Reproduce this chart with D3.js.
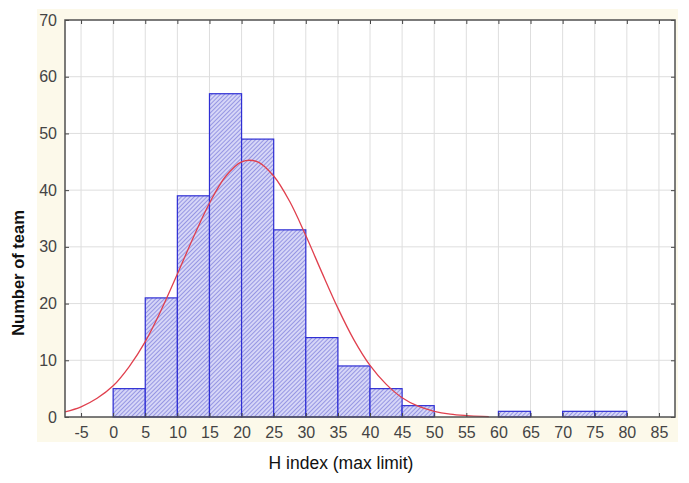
<!DOCTYPE html>
<html>
<head>
<meta charset="utf-8">
<script src="https://cdn.jsdelivr.net/npm/d3@7"></script>
<style>
  html, body { margin: 0; padding: 0; background: #fff; }
  svg { display: block; font-family: "Liberation Sans", Arial, sans-serif; }
</style>
</head>
<body>
<svg id="chart" width="689" height="483"></svg>
<script>
// histogram bins (lower edge, width 5) and counts
const binStarts = [0, 5, 10, 15, 20, 25, 30, 35, 40, 45, 60, 70, 75];
const binCounts = [5, 21, 39, 57, 49, 33, 14, 9, 5, 2, 1, 1, 1];
const binWidth = 5;

// fitted normal curve
const curveX = [-7.5, -5, -2.5, 0, 2.5, 5, 7.5, 10, 12.5, 15, 17.5, 20, 22.5, 25, 27.5, 30, 32.5, 35, 37.5, 40, 42.5, 45, 47.5, 50, 52.5, 55, 57.5, 58.5];
const curveY = [0.9, 1.8, 3.3, 5.5, 8.9, 13.3, 18.9, 25.2, 31.7, 37.7, 42.4, 45.0, 45.0, 42.5, 38.0, 32.0, 25.5, 19.2, 13.6, 9.1, 5.8, 3.4, 1.9, 1.0, 0.5, 0.25, 0.1, 0.07];

const xTicks = [-5, 0, 5, 10, 15, 20, 25, 30, 35, 40, 45, 50, 55, 60, 65, 70, 75, 80, 85];
const yTicks = [0, 10, 20, 30, 40, 50, 60, 70];

const svg = d3.select('#chart');
const plotL = 65, plotR = 675, plotT = 20, plotB = 417;

const x = d3.scaleLinear().domain([-7.5, 87.5]).range([plotL, plotR]);
const y = d3.scaleLinear().domain([0, 70]).range([plotB, plotT]);

// hatch pattern for bars
const defs = svg.append('defs');
const pat = defs.append('pattern')
  .attr('id', 'hatch')
  .attr('patternUnits', 'userSpaceOnUse')
  .attr('width', 3).attr('height', 3)
  .attr('patternTransform', 'rotate(45)');
pat.append('rect').attr('width', 3).attr('height', 3).attr('fill', '#d6d6f7');
pat.append('line').attr('x1', 0).attr('y1', 0).attr('x2', 0).attr('y2', 3)
  .attr('stroke', '#6a6ad6').attr('stroke-width', 1.2);

// cream panel behind the axes
svg.append('rect')
  .attr('x', 37).attr('y', 9).attr('width', 641).attr('height', 433)
  .attr('fill', '#fcf9ea');

svg.append('rect')
  .attr('x', plotL).attr('y', plotT).attr('width', plotR - plotL).attr('height', plotB - plotT)
  .attr('fill', '#fff');

// grid
const grid = svg.append('g').attr('stroke', '#dedede').attr('stroke-width', 1);
grid.selectAll('line.v').data(xTicks).join('line')
  .attr('x1', d => x(d)).attr('x2', d => x(d))
  .attr('y1', plotT).attr('y2', plotB);
grid.selectAll('line.h').data(yTicks.slice(1, -1)).join('line')
  .attr('x1', plotL).attr('x2', plotR)
  .attr('y1', d => y(d)).attr('y2', d => y(d));

// bars
svg.append('g').selectAll('rect')
  .data(binStarts.map((s, i) => ({ s, c: binCounts[i] })))
  .join('rect')
    .attr('x', d => x(d.s))
    .attr('y', d => y(d.c))
    .attr('width', d => x(d.s + binWidth) - x(d.s))
    .attr('height', d => y(0) - y(d.c))
    .attr('fill', 'url(#hatch)')
    .attr('stroke', '#2f2fd4')
    .attr('stroke-width', 1.2);

// normal curve
const line = d3.line()
  .x(d => x(d[0]))
  .y(d => y(d[1]))
  .curve(d3.curveCatmullRom);
svg.append('path')
  .datum(curveX.map((v, i) => [v, curveY[i]]))
  .attr('d', line)
  .attr('fill', 'none')
  .attr('stroke', '#e0404e')
  .attr('stroke-width', 1.3);

// axes with inward ticks
const styleAxis = g => {
  g.select('.domain').remove();
  g.selectAll('.tick line').attr('stroke', '#444');
  g.selectAll('.tick text').attr('fill', '#444').attr('font-size', 16);
};
const plain = d => String(d);

svg.append('g')
  .attr('transform', `translate(0,${plotB})`)
  .call(d3.axisBottom(x).tickValues(xTicks).tickFormat(plain).tickSizeInner(-4).tickSizeOuter(0).tickPadding(10))
  .call(styleAxis);

svg.append('g')
  .attr('transform', `translate(${plotL},0)`)
  .call(d3.axisLeft(y).tickValues(yTicks).tickFormat(plain).tickSizeInner(-4).tickSizeOuter(0).tickPadding(8))
  .call(styleAxis);

svg.append('g')
  .attr('transform', `translate(0,${plotT})`)
  .call(d3.axisTop(x).tickValues(xTicks).tickSizeInner(-4).tickSizeOuter(0).tickFormat(''))
  .call(styleAxis);

svg.append('g')
  .attr('transform', `translate(${plotR},0)`)
  .call(d3.axisRight(y).tickValues(yTicks).tickSizeInner(-4).tickSizeOuter(0).tickFormat(''))
  .call(styleAxis);

// frame
svg.append('rect')
  .attr('x', plotL).attr('y', plotT).attr('width', plotR - plotL).attr('height', plotB - plotT)
  .attr('fill', 'none').attr('stroke', '#505050').attr('stroke-width', 1.5);

// titles
svg.append('text')
  .attr('x', 341).attr('y', 469)
  .attr('text-anchor', 'middle')
  .attr('font-size', 17.5)
  .attr('fill', '#111')
  .text('H index (max limit)');

svg.append('text')
  .attr('transform', 'translate(24,273) rotate(-90)')
  .attr('text-anchor', 'middle')
  .attr('font-size', 16.5)
  .attr('font-weight', 'bold')
  .attr('fill', '#111')
  .text('Number of team');
</script>
</body>
</html>
